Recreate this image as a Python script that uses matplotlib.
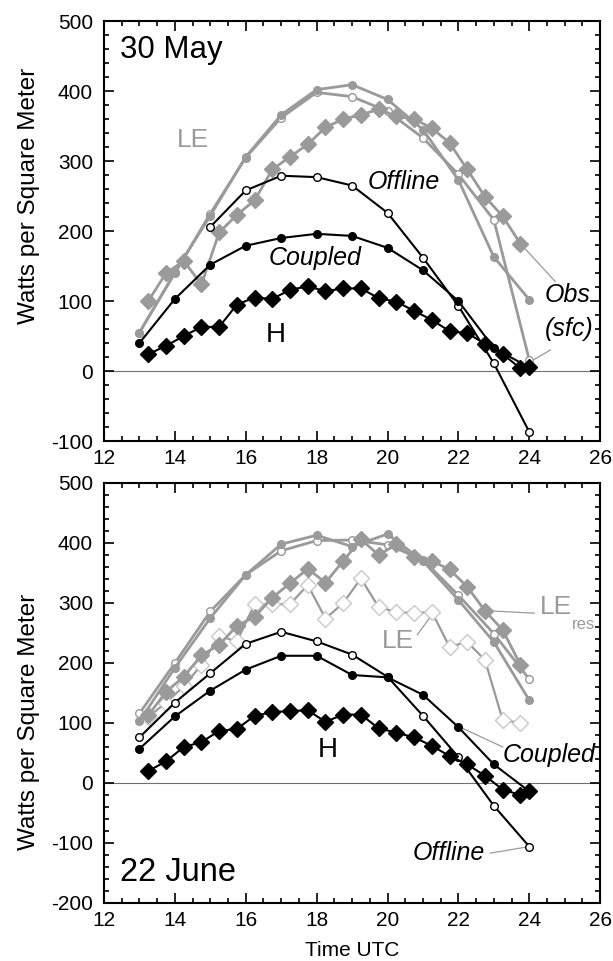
import numpy as np
import matplotlib
matplotlib.use("Agg")
import matplotlib.pyplot as plt
from matplotlib.ticker import MultipleLocator

plt.rcParams['font.family'] = ['Liberation Sans', 'DejaVu Sans']
plt.rcParams['axes.unicode_minus'] = False

GRAY = "#9a9a9a"
LIGHT = "#c8c8c8"

# hourly model times and half-hourly observation times
t_mod = [13, 14, 15, 16, 17, 18, 19, 20, 21, 22, 23, 24]
t_obs = [13.25, 13.75, 14.25, 14.75, 15.25, 15.75, 16.25, 16.75, 17.25, 17.75, 18.25,
         18.75, 19.25, 19.75, 20.25, 20.75, 21.25, 21.75, 22.25, 22.75, 23.25, 23.75]

############# 30 May #############
may_H_obs = [24, 36, 50, 63, 63, 95, 105, 103, 116, 121, 114, 118, 118, 104, 99, 86,
             73, 57, 54, 39, 24, 4]
may_H_obs_end = 6
may_LE_obs = [100, 140, 157, 124, 198, 223, 244, 288, 306, 324, 348, 360, 366, 374,
              364, 360, 347, 326, 288, 249, 221, 182]
may_H_cpl = [40, 103, 152, 179, 190, 196, 193, 176, 144, 100, 33, 5]
may_t_off = [15, 16, 17, 18, 19, 20, 21, 22, 23, 24]
may_H_off = [206, 258, 279, 277, 265, 226, 162, 93, 11, -87]
may_LE_cpl = [55, 141, 222, 306, 366, 402, 409, 388, 345, 273, 163, 102]
may_LE_off = [55, 140, 225, 305, 362, 398, 392, 371, 333, 281, 216, 16]

############# 22 June #############
jun_H_obs = [20, 36, 60, 68, 87, 90, 112, 118, 120, 121, 102, 114, 114, 91, 84, 76,
             62, 45, 31, 12, -11, -20]
jun_H_obs_end = -14
jun_LE_obs = [110, 134, 161, 197, 245, 236, 298, 298, 298, 330, 274, 300, 341, 293,
              285, 283, 285, 227, 235, 205, 105, 100]
jun_LE_res = [113, 152, 177, 213, 230, 262, 277, 309, 333, 357, 334, 370, 406, 380,
              398, 376, 370, 356, 327, 287, 255, 197]
jun_H_cpl = [57, 111, 154, 189, 212, 212, 180, 176, 147, 93, 31, -14]
jun_H_off = [76, 134, 183, 232, 252, 236, 214, 177, 112, 43, -38, -106]
jun_LE_cpl = [103, 192, 275, 347, 398, 413, 394, 415, 370, 305, 235, 138]
jun_LE_off = [116, 200, 286, 347, 387, 404, 405, 397, 372, 313, 249, 173]


def style_axes(ax, ymin, ylab_y):
    ax.set_xlim(12, 26)
    ax.set_ylim(ymin, 500)
    ax.xaxis.set_major_locator(MultipleLocator(2))
    ax.xaxis.set_minor_locator(MultipleLocator(0.5))
    ax.yaxis.set_major_locator(MultipleLocator(100))
    ax.yaxis.set_minor_locator(MultipleLocator(20))
    ax.tick_params(which='both', direction='in', top=True, right=True, labelsize=15,
                   width=1.2)
    ax.tick_params(which='major', length=7)
    ax.tick_params(which='minor', length=3.5)
    ax.tick_params(axis='y', pad=8)
    ax.tick_params(axis='x', pad=6)
    for s in ax.spines.values():
        s.set_linewidth(1.5)
    ax.axhline(0, color='#707070', lw=0.8, zorder=1)
    ax.set_ylabel('Watts per Square Meter', fontsize=17.5)
    ax.yaxis.set_label_coords(-0.13, ylab_y)


fig = plt.figure(figsize=(6.13, 9.61), dpi=100)
ax1 = fig.add_axes([0.1697, 0.5411, 0.8093, 0.4370])
ax2 = fig.add_axes([0.1697, 0.0604, 0.8093, 0.4370])

# ---- top panel ----
ax = ax1
style_axes(ax, -100, 0.583)
ax.plot(t_mod, may_LE_off, '-o', color=GRAY, lw=2, ms=5.5, mfc='white', mec=GRAY, zorder=3)
ax.plot(t_mod, may_LE_cpl, '-o', color=GRAY, lw=2, ms=5.5, mfc=GRAY, mec=GRAY, zorder=3)
ax.plot(t_obs, may_LE_obs, '-D', color=GRAY, lw=2, ms=8, mfc=GRAY, mec=GRAY, zorder=4)
ax.plot(may_t_off, may_H_off, '-o', color='black', lw=1.5, ms=5.5, mfc='white', mec='black', zorder=5)
ax.plot(t_mod, may_H_cpl, '-o', color='black', lw=1.5, ms=5.5, mfc='black', zorder=5)
ax.plot(t_obs + [24.0], may_H_obs + [may_H_obs_end], '-D', color='black', lw=1.5, ms=8.5,
        mfc='black', zorder=6)

ax.text(12.45, 458, '30 May', fontsize=22.5, va='center', ha='left')
ax.text(14.5, 330, 'LE', fontsize=19, color=GRAY, ha='center', va='center')
ax.text(20.45, 270, 'Offline', fontsize=18, style='italic', ha='center', va='center')
ax.text(17.95, 162, 'Coupled', fontsize=18, style='italic', ha='center', va='center')
ax.text(16.85, 51, 'H', fontsize=20, ha='center', va='center')
ax.text(25.08, 108, 'Obs', fontsize=18, style='italic', ha='center', va='center')
ax.text(25.14, 60, '(sfc)', fontsize=18, style='italic', ha='center', va='center')
ax.plot([t_obs[-1], 24.73], [may_LE_obs[-1], 128], color=GRAY, lw=0.9, zorder=2)
ax.plot([24.02, 24.6], [13, 30], color=GRAY, lw=0.9, zorder=2)

# ---- bottom panel ----
ax = ax2
style_axes(ax, -200, 0.43)
ax.plot(t_obs, jun_LE_obs, '-D', color=GRAY, lw=1.6, ms=8, mfc='white', mec=LIGHT, zorder=3)
ax.plot(t_mod, jun_LE_off, '-o', color=GRAY, lw=2, ms=5.5, mfc='white', mec=GRAY, zorder=3)
ax.plot(t_mod, jun_LE_cpl, '-o', color=GRAY, lw=2, ms=5.5, mfc=GRAY, mec=GRAY, zorder=3)
ax.plot(t_obs, jun_LE_res, '-D', color=GRAY, lw=2, ms=8, mfc=GRAY, mec=GRAY, zorder=4)
ax.plot(t_mod, jun_H_off, '-o', color='black', lw=1.5, ms=5.5, mfc='white', mec='black', zorder=5)
ax.plot(t_mod, jun_H_cpl, '-o', color='black', lw=1.5, ms=5.5, mfc='black', zorder=5)
ax.plot(t_obs + [24.0], jun_H_obs + [jun_H_obs_end], '-D', color='black', lw=1.5, ms=8.5,
        mfc='black', zorder=6)

ax.text(12.45, -150, '22 June', fontsize=23.5, va='center', ha='left')
ax.text(18.3, 55, 'H', fontsize=20, ha='center', va='center')
ax.text(20.3, 236, 'LE', fontsize=19, color=GRAY, ha='center', va='center')
ax.plot([20.84, 21.25], [247, 280], color=GRAY, lw=0.9, zorder=2)
ax.text(24.76, 294, 'LE', fontsize=19, color=GRAY, ha='center', va='center')
ax.text(25.53, 264, 'res', fontsize=12, color=GRAY, ha='center', va='center')
ax.plot([t_obs[-3] + 0.1, 24.14], [jun_LE_res[-3], 283], color=GRAY, lw=0.9, zorder=2)
ax.text(24.55, 47, 'Coupled', fontsize=18, style='italic', ha='center', va='center')
ax.plot([22.05, 23.25], [jun_H_cpl[9], 60], color=GRAY, lw=0.9, zorder=2)
ax.text(21.72, -117, 'Offline', fontsize=18, style='italic', ha='center', va='center')
ax.plot([22.9, 24.0], [-117, jun_H_off[-1]], color=GRAY, lw=0.9, zorder=2)
ax.set_xlabel('Time UTC', fontsize=15, labelpad=8)

fig.savefig('out.png', dpi=100)
